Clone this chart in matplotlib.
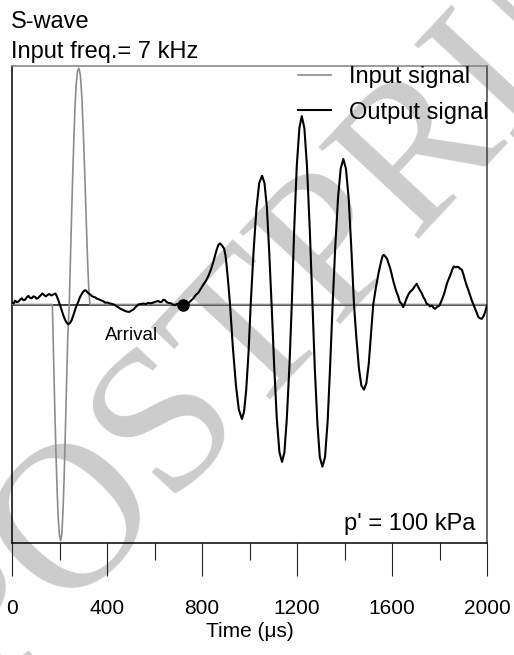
#!/usr/bin/env python3
"""
S-wave bender element trace: input burst vs received output signal
"""

import matplotlib
matplotlib.use("Agg")
import matplotlib.pyplot as plt
from matplotlib.ticker import MultipleLocator

plt.rcParams['font.family'] = ['Liberation Sans', 'DejaVu Sans']

# Input signal (one-cycle sine burst, 7 kHz)
input_time = [0, 170, 175, 180, 185, 190, 195, 200, 205, 210, 215, 220, 225,
              230, 235, 241, 245, 250, 255, 260, 265, 270, 276, 282, 288, 294,
              300, 306, 312, 318, 323, 328, 2000]
input_amp = [0, 0, -0.22, -0.43, -0.62, -0.78, -0.90, -0.97, -0.99, -0.96,
             -0.86, -0.71, -0.52, -0.32, -0.13, 0.0, 0.15, 0.34, 0.52, 0.68,
             0.82, 0.92, 0.98, 0.99, 0.96, 0.87, 0.73, 0.56, 0.37, 0.19,
             0.07, 0.0, 0.0]

# Output signal (received trace)
output_time = [0, 7, 13, 20, 27, 34, 41, 48, 55, 62, 69, 76, 83, 90, 97, 104,
               111, 118, 128, 135, 142, 150, 157, 165, 174, 183, 189, 195, 202,
               209, 216, 223, 230, 237, 244, 251, 258, 265, 272, 279, 286, 293,
               300, 307, 312, 317, 323, 329, 336, 343, 350, 357, 365, 374, 383,
               392, 402, 413, 423, 434, 445, 455, 465, 476, 485, 494, 502, 511,
               521, 532, 542, 553, 563, 574, 584, 595, 605, 616, 623, 630, 637,
               644, 651, 658, 665, 672, 679, 686, 693, 700, 710, 721, 732, 742,
               752, 763, 774, 785, 795, 806, 816, 827, 838, 848, 855, 862, 869,
               876, 884, 893, 899, 904, 911, 918, 930, 943, 955, 968, 977, 986,
               996, 1005, 1017, 1029, 1041, 1053, 1063, 1073, 1083, 1093, 1104,
               1115, 1126, 1137, 1147, 1157, 1168, 1178, 1188, 1199, 1210, 1220,
               1231, 1242, 1254, 1265, 1275, 1286, 1296, 1307, 1318, 1329, 1339,
               1350, 1361, 1373, 1384, 1395, 1406, 1418, 1429, 1440, 1450, 1461,
               1471, 1482, 1492, 1502, 1511, 1521, 1532, 1543, 1554, 1561, 1566,
               1573, 1580, 1586, 1591, 1598, 1605, 1612, 1619, 1626, 1633, 1640,
               1647, 1654, 1661, 1668, 1675, 1682, 1689, 1697, 1704, 1711, 1718,
               1725, 1732, 1739, 1746, 1753, 1760, 1768, 1775, 1782, 1790, 1800,
               1808, 1817, 1824, 1831, 1840, 1848, 1855, 1861, 1868, 1874, 1880,
               1887, 1894, 1901, 1908, 1915, 1922, 1929, 1936, 1943, 1950, 1957,
               1964, 1971, 1978, 1985, 1992, 2000]
output_amp = [0.008, 0.004, 0.016, 0.010, 0.012, 0.020, 0.026, 0.018, 0.020,
              0.030, 0.036, 0.028, 0.026, 0.034, 0.032, 0.024, 0.028, 0.036,
              0.046, 0.040, 0.034, 0.040, 0.044, 0.038, 0.042, 0.046, 0.034,
              0.018, -0.002, -0.024, -0.045, -0.063, -0.076, -0.083, -0.078,
              -0.066, -0.046, -0.024, -0.004, 0.011, 0.030, 0.043, 0.054,
              0.060, 0.058, 0.052, 0.046, 0.042, 0.036, 0.032, 0.030, 0.025,
              0.022, 0.018, 0.014, 0.008, 0.008, 0.004, 0.002, -0.003, -0.010,
              -0.017, -0.022, -0.027, -0.030, -0.031, -0.026, -0.021, -0.010,
              0.000, 0.002, 0.004, 0.002, 0.007, 0.005, 0.008, 0.012, 0.015,
              0.010, 0.011, 0.020, 0.018, 0.010, 0.007, 0.006, 0.004, -0.001,
              -0.003, 0.002, 0.001, -0.002, 0.000, 0.002, 0.005, 0.015, 0.025,
              0.040, 0.050, 0.066, 0.084, 0.098, 0.120, 0.148, 0.180, 0.205,
              0.230, 0.250, 0.256, 0.248, 0.234, 0.205, 0.160, 0.085, 0.000,
              -0.18, -0.34, -0.44, -0.48, -0.45, -0.36, -0.20, 0.0, 0.22, 0.40,
              0.51, 0.54, 0.51, 0.41, 0.22, 0.0, -0.26, -0.48, -0.62, -0.66,
              -0.62, -0.48, -0.26, 0.0, 0.31, 0.58, 0.74, 0.79, 0.74, 0.58,
              0.31, 0.0, -0.27, -0.50, -0.64, -0.68, -0.64, -0.49, -0.27, 0.0,
              0.24, 0.45, 0.57, 0.61, 0.57, 0.44, 0.23, 0.0, -0.14, -0.27,
              -0.34, -0.357, -0.33, -0.25, -0.13, 0.0, 0.07, 0.13, 0.18, 0.205,
              0.208, 0.200, 0.190, 0.170, 0.157, 0.130, 0.100, 0.075, 0.052,
              0.035, 0.010, 0.004, -0.011, 0.005, 0.024, 0.040, 0.052, 0.058,
              0.066, 0.078, 0.087, 0.072, 0.059, 0.048, 0.031, 0.020, 0.003,
              0.000, -0.008, -0.004, -0.014, -0.018, -0.010, -0.004, 0.015,
              0.038, 0.060, 0.087, 0.110, 0.129, 0.150, 0.160, 0.156, 0.158,
              0.157, 0.150, 0.146, 0.125, 0.100, 0.078, 0.059, 0.038, 0.017,
              0.000, -0.018, -0.036, -0.053, -0.058, -0.060, -0.050, -0.032,
              -0.004]

arrival_time = [721]
arrival_amp = [0.0]

x_ticks = [0, 400, 800, 1200, 1600, 2000]


def plot_trace(output_file):
    fig = plt.figure(figsize=(5.14, 6.55), dpi=100)
    ax = fig.add_axes([12 / 514, 1 - 543 / 655, 475 / 514, 477 / 655])
    ax.set_facecolor('none')

    # watermark behind everything
    fig.text(0.64, 0.61, 'POSTPRINT', family=['Liberation Serif', 'DejaVu Serif'],
             fontsize=150, color='#cccccc', rotation=47, ha='center', va='center',
             zorder=-5)

    ax.axhline(0, color='#333333', linewidth=1.3, zorder=2)
    ax.plot(input_time, input_amp, color='#8c8c8c', linewidth=1.2,
            label='Input signal', zorder=3)
    ax.plot(output_time, output_amp, color='black', linewidth=1.5,
            label='Output signal', zorder=4)
    ax.plot(arrival_time, arrival_amp, 'o', color='black', markersize=8,
            zorder=5)

    ax.text(392, -0.13, 'Arrival', fontsize=13.5, ha='left', va='center')
    ax.text(0.975, 0.04, "p' = 100 kPa", transform=ax.transAxes,
            fontsize=17, ha='right', va='center')

    ax.set_xlim(0, 2000)
    ax.set_ylim(-1, 1)
    ax.set_xticks(x_ticks)
    ax.xaxis.set_minor_locator(MultipleLocator(200))
    ax.tick_params(axis='x', which='major', length=24, width=0.8,
                   direction='out', labelsize=15, pad=16, color='#222222')
    ax.tick_params(axis='x', which='minor', length=12, width=0.8,
                   direction='out', color='#222222')
    ax.set_yticks([])
    ax.set_xlabel('Time (\u03bcs)', fontsize=15, labelpad=3)

    for side in ['left', 'bottom']:
        ax.spines[side].set_color('black')
        ax.spines[side].set_linewidth(1.1)
    ax.spines['top'].set_color('#808080')
    ax.spines['right'].set_color('#404040')
    ax.spines['top'].set_linewidth(1.1)
    ax.spines['right'].set_linewidth(1.1)

    ax.legend(loc='upper left', bbox_to_anchor=(0.602, 1.0), frameon=False,
              fontsize=17, handlelength=1.4, handletextpad=0.76,
              labelspacing=0.58, borderpad=0.0, borderaxespad=0.0)

    fig.text(11 / 514, 1 - 22 / 655, 'S-wave', fontsize=17, ha='left',
             va='center')
    fig.text(11 / 514, 1 - 52 / 655, 'Input freq.= 7 kHz', fontsize=17,
             ha='left', va='center')

    fig.savefig(output_file, dpi=100)
    print(f"Plot saved to: {output_file}")


def main():
    plot_trace('out.png')


if __name__ == '__main__':
    main()
